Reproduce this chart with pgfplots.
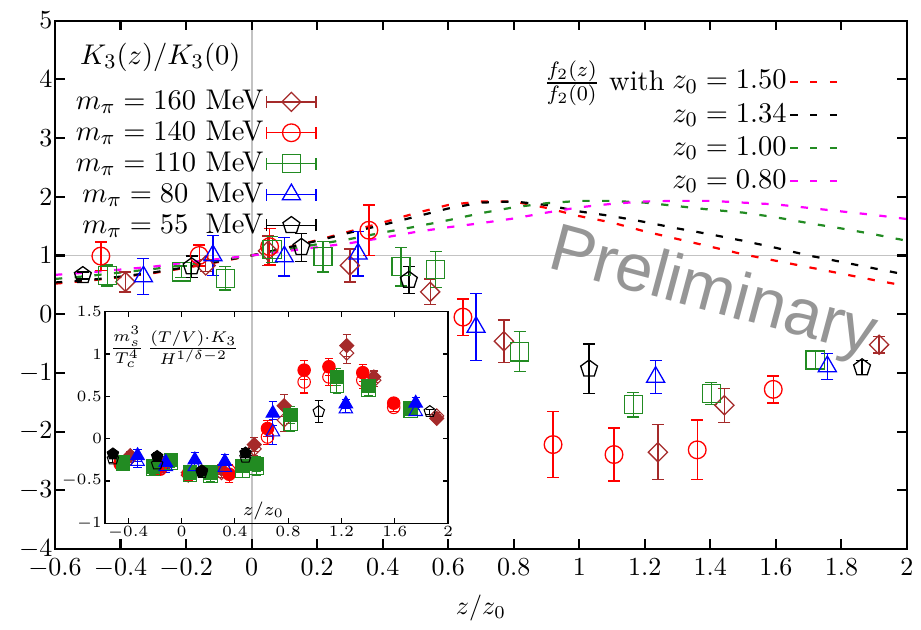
\documentclass[border=0pt]{standalone}
\usepackage{pgfplots}
\pgfplotsset{compat=1.18}
\usepackage{fontspec}
\newfontfamily\prelimfont{Liberation Sans}
\definecolor{mbrown}{RGB}{165,42,42}
\definecolor{mgreen}{RGB}{34,139,34}
\definecolor{mmag}{RGB}{255,0,255}
\definecolor{mgray}{RGB}{195,195,195}
\definecolor{pgray}{RGB}{150,150,150}
\pgfplotsset{
  eb/.style={error bars/.cd, y dir=both, y explicit,
     error bar style={line width=0.5pt},
     error mark options={rotate=90, mark size=2.3pt, line width=0.5pt}},
  ebs/.style={error bars/.cd, y dir=both, y explicit,
     error bar style={line width=0.4pt},
     error mark options={rotate=90, mark size=1.6pt, line width=0.4pt}},
  dsh/.style={line width=0.85pt, dash pattern=on 2.8pt off 4.8pt},
  errleg/.style={legend image code/.code={
     \draw[##1, sharp plot, mark repeat=2, mark phase=2] plot coordinates {(0pt,0pt) (9.5pt,0pt) (19pt,0pt)};
     \draw[##1, mark=none] (0pt,-2.3pt) -- (0pt,2.3pt);
     \draw[##1, mark=none] (19pt,-2.3pt) -- (19pt,2.3pt);}},
}
\newcommand\lfont{\fontsize{10.95}{13.6}\selectfont}
\begin{document}
\begin{tikzpicture}
\useasboundingbox (-21.15pt,-30.8pt) rectangle (333.1pt,211.2pt);
% ---------- curves, reference lines, watermark ----------
\begin{axis}[at={(0,0)}, anchor=south west, scale only axis, width=327.7pt, height=203.3pt,
  xmin=-0.6, xmax=2, ymin=-4, ymax=5, hide axis,
  legend style={at={(0.929,0.921)}, anchor=north east, draw=none, fill=none, row sep=2.2pt, font=\lfont, nodes={inner sep=1pt}},
  legend cell align=right, legend plot pos=right,
  legend image code/.code={\draw[#1] (0pt,0pt) -- (18pt,0pt);}]
\addplot[mgray, line width=0.8pt, forget plot] coordinates {(0,-4) (0,5)};
\addplot[mgray, line width=0.6pt, forget plot] coordinates {(-0.6,1) (2,1)};
\node[rotate=-15, anchor=base west, text=pgray, inner sep=0pt, font=\prelimfont\fontsize{25.8}{30}\selectfont] at (axis cs:0.898,0.79) {Preliminary};
\addplot[red, dsh] coordinates {
(-0.6,0.52) (-0.5,0.57) (-0.4,0.63) (-0.3,0.70) (-0.2,0.79) (-0.1,0.89) (0,1.0) (0.1,1.12) (0.2,1.26) (0.3,1.41) (0.4,1.56) (0.5,1.72) (0.6,1.86) (0.7,1.92) (0.8,1.92) (0.9,1.81) (1.0,1.67) (1.1,1.56) (1.2,1.41) (1.3,1.28) (1.4,1.15) (1.5,1.02) (1.6,0.91) (1.7,0.80) (1.8,0.69) (1.9,0.58) (2.0,0.48)};
\addlegendentry{$z_0 = 1.50$}
\addplot[black, dsh] coordinates {
(-0.6,0.54) (-0.5,0.58) (-0.4,0.64) (-0.3,0.71) (-0.2,0.80) (-0.1,0.90) (0,1.0) (0.1,1.12) (0.2,1.25) (0.3,1.39) (0.4,1.52) (0.5,1.66) (0.6,1.80) (0.7,1.90) (0.8,1.92) (0.9,1.86) (1.0,1.75) (1.1,1.67) (1.2,1.57) (1.3,1.46) (1.4,1.36) (1.5,1.25) (1.6,1.13) (1.7,1.00) (1.8,0.89) (1.9,0.78) (2.0,0.67)};
\addlegendentry{$z_0 = 1.34$}
\addplot[mgreen, dsh] coordinates {
(-0.6,0.60) (-0.5,0.65) (-0.4,0.71) (-0.3,0.77) (-0.2,0.84) (-0.1,0.92) (0,1.0) (0.1,1.09) (0.2,1.19) (0.3,1.28) (0.4,1.39) (0.5,1.49) (0.6,1.60) (0.7,1.72) (0.8,1.82) (0.9,1.89) (1.0,1.93) (1.1,1.93) (1.2,1.90) (1.3,1.84) (1.4,1.78) (1.5,1.73) (1.6,1.65) (1.7,1.55) (1.8,1.46) (1.9,1.36) (2.0,1.25)};
\addlegendentry{$z_0 = 1.00$}
\addplot[mmag, dsh] coordinates {
(-0.6,0.67) (-0.5,0.71) (-0.4,0.76) (-0.3,0.81) (-0.2,0.88) (-0.1,0.94) (0,1.0) (0.1,1.07) (0.2,1.14) (0.3,1.21) (0.4,1.30) (0.5,1.40) (0.6,1.48) (0.7,1.55) (0.8,1.63) (0.9,1.73) (1.0,1.82) (1.1,1.88) (1.2,1.92) (1.3,1.93) (1.4,1.93) (1.5,1.90) (1.6,1.87) (1.7,1.81) (1.8,1.75) (1.9,1.69) (2.0,1.62)};
\addlegendentry{$z_0 = 0.80$}
\node[anchor=base east, inner sep=0pt, font=\lfont] at (axis cs:1.262,3.816) {$\frac{f_2(z)}{f_2(0)}$ with};
\end{axis}
% ---------- data ----------
\begin{axis}[at={(0,0)}, anchor=south west, scale only axis, width=327.7pt, height=203.3pt,
  xmin=-0.6, xmax=2, ymin=-4, ymax=5,
  xtick={-0.6,-0.4,-0.2,0,0.2,0.4,0.6,0.8,1,1.2,1.4,1.6,1.8,2},
  ytick={-4,-3,-2,-1,0,1,2,3,4,5},
  tick align=inside, major tick length=3.7pt,
  axis line style={line width=0.8pt}, every tick/.style={line width=0.8pt, black},
  yticklabel style={inner sep=0.8pt},
  xlabel={$z/z_0$},
  legend style={at={(0.317,0.884)}, anchor=north east, draw=none, fill=none, row sep=0.9pt, font=\lfont, nodes={inner sep=1pt}},
  legend cell align=right, legend plot pos=right]
\addplot[only marks, mbrown, mark=square, mark size=2.6pt, mark options={rotate=45}, line width=0.5pt, errleg, eb] coordinates {
(-0.385,0.55) +- (0,0.17) (-0.14,0.83) +- (0,0.10) (0.05,1.08) +- (0,0.25) (0.30,0.83) +- (0,0.28) (0.545,0.38) +- (0,0.22) (0.77,-0.46) +- (0,0.36) (1.24,-2.35) +- (0,0.47) (1.443,-1.55) +- (0,0.29) (1.915,-0.52) +- (0,0.14)};
\addlegendentry{$m_\pi = 160$ MeV}
\addplot[only marks, red, mark=o, mark size=3.4pt, line width=0.5pt, errleg, eb] coordinates {
(-0.46,0.99) +- (0,0.24) (-0.16,1.0) +- (0,0.18) (0.055,1.15) +- (0,0.31) (0.358,1.43) +- (0,0.43) (0.645,-0.05) +- (0,0.31) (0.92,-2.22) +- (0,0.56) (1.106,-2.39) +- (0,0.45) (1.36,-2.31) +- (0,0.51) (1.592,-1.28) +- (0,0.23)};
\addlegendentry{$m_\pi = 140$ MeV}
\addplot[only marks, mgreen, mark=square, mark size=3.5pt, line width=0.5pt, errleg, eb] coordinates {
(-0.44,0.66) +- (0,0.18) (-0.214,0.72) +- (0,0.10) (-0.08,0.61) +- (0,0.20) (0.063,1.10) +- (0,0.22) (0.218,0.98) +- (0,0.26) (0.456,0.81) +- (0,0.33) (0.562,0.76) +- (0,0.31) (0.818,-0.64) +- (0,0.34) (1.165,-1.54) +- (0,0.21) (1.403,-1.35) +- (0,0.19) (1.72,-0.78) +- (0,0.14)};
\addlegendentry{$m_\pi = 110$ MeV}
\addplot[only marks, blue, mark=triangle, mark size=4pt, line width=0.5pt, errleg, eb] coordinates {
(-0.33,0.64) +- (0,0.31) (-0.118,1.0) +- (0,0.34) (0.10,0.98) +- (0,0.33) (0.325,1.03) +- (0,0.38) (0.685,-0.22) +- (0,0.57) (1.233,-1.07) +- (0,0.28) (1.757,-0.89) +- (0,0.22)};
\addlegendentry{$m_\pi = 80$\hspace{3pt} MeV}
\addplot[only marks, black, mark=pentagon, mark size=3.4pt, line width=0.5pt, errleg, eb] coordinates {
(-0.515,0.66) +- (0,0.06) (-0.183,0.81) +- (0,0.18) (0.152,1.14) +- (0,0.24) (0.48,0.58) +- (0,0.23) (1.03,-0.93) +- (0,0.42) (1.863,-0.91) +- (0,0.12)};
\addlegendentry{$m_\pi = 55$\hspace{3pt} MeV}
\node[anchor=west, inner sep=0pt, font=\lfont] at (axis cs:-0.525,4.38) {$K_3(z)/K_3(0)$};
\end{axis}
% ---------- inset ----------
\begin{axis}[at={(19.2pt,9.9pt)}, anchor=south west, scale only axis, width=132pt, height=81.4pt,
  xmin=-0.575, xmax=2.0, ymin=-1, ymax=1.5,
  xtick={-0.4,0,0.4,0.8,1.2,1.6,2}, ytick={-1,-0.5,0,0.5,1,1.5},
  tick align=inside, major tick length=2pt,
  axis line style={line width=0.5pt}, every tick/.style={line width=0.5pt, black},
  ticklabel style={font=\fontsize{6}{7}\selectfont},
  yticklabel style={inner sep=1pt}, xticklabel style={inner sep=1pt}]
% brown
\addplot[only marks, mbrown, mark=square, mark size=1.9pt, mark options={rotate=45}, line width=0.4pt, ebs] coordinates {
(-0.385,-0.23) +- (0,0.05) (-0.14,-0.34) +- (0,0.06) (0.05,-0.43) +- (0,0.06) (0.30,-0.40) +- (0,0.06) (0.545,-0.12) +- (0,0.08) (0.77,0.22) +- (0,0.13) (1.24,1.01) +- (0,0.12) (1.443,0.69) +- (0,0.07) (1.915,0.27) +- (0,0.04)};
\addplot[only marks, mbrown, mark=square*, mark size=1.9pt, mark options={rotate=45, fill=mbrown}, line width=0.4pt, ebs] coordinates {
(-0.385,-0.20) +- (0,0.05) (-0.14,-0.30) +- (0,0.06) (0.05,-0.40) +- (0,0.06) (0.30,-0.36) +- (0,0.06) (0.545,-0.07) +- (0,0.08) (0.77,0.39) +- (0,0.13) (1.24,1.10) +- (0,0.13) (1.443,0.73) +- (0,0.07) (1.915,0.24) +- (0,0.04)};
% red
\addplot[only marks, red, mark=o, mark size=2.4pt, line width=0.4pt, ebs] coordinates {
(-0.46,-0.28) +- (0,0.05) (-0.16,-0.36) +- (0,0.06) (0.055,-0.42) +- (0,0.07) (0.358,-0.38) +- (0,0.08) (0.645,0.02) +- (0,0.09) (0.92,0.67) +- (0,0.13) (1.106,0.73) +- (0,0.1) (1.36,0.69) +- (0,0.1) (1.592,0.37) +- (0,0.05)};
\addplot[only marks, red, mark=*, mark size=2.4pt, mark options={fill=red}, line width=0.4pt, ebs] coordinates {
(-0.46,-0.30) +- (0,0.05) (-0.16,-0.33) +- (0,0.06) (0.055,-0.40) +- (0,0.07) (0.358,-0.42) +- (0,0.1) (0.645,0.12) +- (0,0.09) (0.92,0.81) +- (0,0.11) (1.106,0.85) +- (0,0.1) (1.36,0.78) +- (0,0.1) (1.592,0.42) +- (0,0.05)};
% green
\addplot[only marks, mgreen, mark=square, mark size=2.6pt, line width=0.4pt, ebs] coordinates {
(-0.44,-0.30) +- (0,0.05) (-0.214,-0.36) +- (0,0.06) (-0.08,-0.28) +- (0,0.06) (0.063,-0.43) +- (0,0.07) (0.218,-0.44) +- (0,0.06) (0.456,-0.38) +- (0,0.08) (0.562,-0.34) +- (0,0.09) (0.818,0.18) +- (0,0.1) (1.165,0.63) +- (0,0.1) (1.403,0.58) +- (0,0.07) (1.72,0.33) +- (0,0.05)};
\addplot[only marks, mgreen, mark=square*, mark size=2.6pt, mark options={fill=mgreen}, line width=0.4pt, ebs] coordinates {
(-0.44,-0.28) +- (0,0.05) (-0.214,-0.33) +- (0,0.06) (-0.08,-0.25) +- (0,0.06) (0.063,-0.40) +- (0,0.07) (0.218,-0.40) +- (0,0.06) (0.456,-0.32) +- (0,0.08) (0.562,-0.30) +- (0,0.09) (0.818,0.28) +- (0,0.1) (1.165,0.73) +- (0,0.1) (1.403,0.62) +- (0,0.07) (1.72,0.36) +- (0,0.05)};
% blue
\addplot[only marks, blue, mark=triangle, mark size=3pt, line width=0.4pt, ebs] coordinates {
(-0.33,-0.27) +- (0,0.07) (-0.118,-0.33) +- (0,0.07) (0.10,-0.33) +- (0,0.08) (0.325,-0.34) +- (0,0.07) (0.685,0.08) +- (0,0.15) (1.233,0.35) +- (0,0.04) (1.757,0.32) +- (0,0.05)};
\addplot[only marks, blue, mark=triangle*, mark size=3pt, mark options={fill=blue}, line width=0.4pt, ebs] coordinates {
(-0.33,-0.20) +- (0,0.07) (-0.118,-0.28) +- (0,0.07) (0.10,-0.25) +- (0,0.09) (0.325,-0.27) +- (0,0.08) (0.685,0.30) +- (0,0.14) (1.233,0.41) +- (0,0.05) (1.757,0.42) +- (0,0.07)};
% black
\addplot[only marks, black, mark=pentagon, mark size=2.3pt, line width=0.4pt, ebs] coordinates {
(-0.515,-0.24) +- (0,0.04) (-0.183,-0.30) +- (0,0.05) (0.152,-0.40) +- (0,0.05) (0.48,-0.22) +- (0,0.05) (1.03,0.32) +- (0,0.13) (1.863,0.32) +- (0,0.03)};
\addplot[only marks, black, mark=pentagon*, mark size=2.3pt, mark options={fill=black}, line width=0.4pt, ebs] coordinates {
(-0.515,-0.18) +- (0,0.04) (-0.183,-0.21) +- (0,0.05) (0.152,-0.38) +- (0,0.05) (0.48,-0.17) +- (0,0.05)};
\node[font=\footnotesize] at (axis cs:-0.05,1.08) {$\frac{m_s^3}{T_c^4}\,\frac{(T/V)\cdot K_3}{H^{1/\delta-2}}$};
\node[font=\scriptsize] at (axis cs:0.614,-0.85) {$z/z_0$};
\end{axis}
\end{tikzpicture}
\end{document}
